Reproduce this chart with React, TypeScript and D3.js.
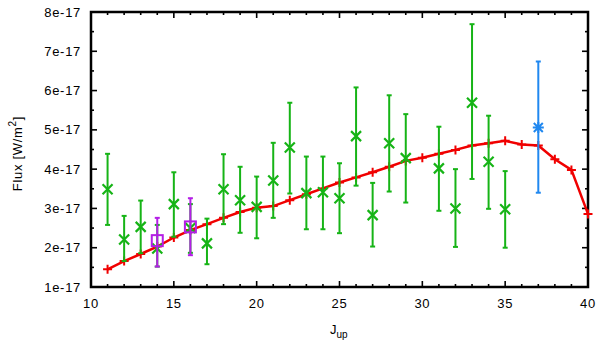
import React from 'react';
import * as d3 from 'd3';

// values in units of 1e-17 W/m^2
const modelJ = [11, 12, 13, 14, 15, 16, 17, 18, 19, 20, 21, 22, 23, 24, 25, 26, 27, 28, 29, 30, 31, 32, 33, 34, 35, 36, 37, 38, 39, 40];
const modelFlux = [1.45, 1.66, 1.84, 2.03, 2.26, 2.45, 2.6, 2.76, 2.91, 3.02, 3.06, 3.21, 3.36, 3.51, 3.66, 3.79, 3.92, 4.06, 4.21, 4.29, 4.39, 4.49, 4.6, 4.66, 4.72, 4.63, 4.6, 4.25, 3.98, 2.86];

const obsJ = [11, 12, 13, 14, 15, 16, 17, 18, 19, 20, 21, 22, 23, 24, 25, 26, 27, 28, 29, 31, 32, 33, 34, 35];
const obsFlux = [3.49, 2.21, 2.53, 1.98, 3.11, 2.5, 2.11, 3.49, 3.21, 3.04, 3.71, 4.55, 3.39, 3.41, 3.26, 4.84, 2.83, 4.66, 4.28, 4.02, 3.0, 5.69, 4.19, 2.98];
const obsLow = [2.58, 1.66, 1.86, 1.52, 2.28, 1.87, 1.58, 2.6, 2.38, 2.24, 2.76, 3.38, 2.47, 2.47, 2.37, 3.58, 2.03, 3.43, 3.15, 2.94, 2.02, 3.75, 2.99, 2.0];
const obsHigh = [4.39, 2.81, 3.2, 2.58, 3.92, 3.11, 2.74, 4.38, 4.06, 3.81, 4.67, 5.69, 4.32, 4.32, 4.15, 6.08, 3.65, 5.88, 5.4, 5.08, 4.0, 7.69, 5.36, 3.95];

const altJ = [14, 16];
const altFlux = [2.18, 2.53];
const altLow = [1.52, 1.81];
const altHigh = [2.76, 3.26];

const extraJ = [37];
const extraFlux = [5.06];
const extraLow = [3.4];
const extraHigh = [6.74];

const xTicks = [10, 15, 20, 25, 30, 35, 40];
const yTicks = [1, 2, 3, 4, 5, 6, 7, 8];
const yTickLabels = ['1e-17', '2e-17', '3e-17', '4e-17', '5e-17', '6e-17', '7e-17', '8e-17'];

const W = 600, H = 346;
const m = { left: 91, right: 12, top: 12, bottom: 59 };
const font = '"Liberation Sans", Arial, sans-serif';

const RED = '#f00000';
const GREEN = '#16b416';
const BLUE = '#2088f0';
const PURPLE = '#b41ee6';

export default function App() {
  const x = d3.scaleLinear().domain([10, 40]).range([m.left, W - m.right]);
  const y = d3.scaleLinear().domain([1, 8]).range([H - m.bottom, m.top]);
  const x0 = x.range()[0], x1 = x.range()[1];
  const y0 = y.range()[0], y1 = y.range()[1];

  const line = d3.line<number>().x((_, i) => x(modelJ[i])).y(d => y(d));

  const errBars = (js: number[], lo: number[], hi: number[], color: string, key: string) =>
    js.map((j, i) => {
      const cx = x(j);
      return (
        <g key={key + i} stroke={color} strokeWidth={2}>
          <line x1={cx} x2={cx} y1={y(lo[i])} y2={y(hi[i])} />
          <line x1={cx - 2.5} x2={cx + 2.5} y1={y(lo[i])} y2={y(lo[i])} />
          <line x1={cx - 2.5} x2={cx + 2.5} y1={y(hi[i])} y2={y(hi[i])} />
        </g>
      );
    });

  const cross = (cx: number, cy: number, s: number) => `M${cx - s},${cy - s}L${cx + s},${cy + s}M${cx - s},${cy + s}L${cx + s},${cy - s}`;
  const plus = (cx: number, cy: number, s: number) => `M${cx - s},${cy}L${cx + s},${cy}M${cx},${cy - s}L${cx},${cy + s}`;

  const minorX = d3.range(10, 41, 1);
  const minorY = d3.range(1, 8.01, 0.5);

  return (
    <svg width={W} height={H} style={{ position: 'absolute', left: 0, top: 0 }} fontFamily={font}>
      <rect width={W} height={H} fill="#fff" />
      {/* ticks, all four sides */}
      <g stroke="#000" strokeWidth={1.6}>
        {minorX.map(t => {
          const len = t % 5 === 0 ? 6 : 3;
          return (
            <g key={'tx' + t}>
              <line x1={x(t)} x2={x(t)} y1={y0} y2={y0 - len} />
              <line x1={x(t)} x2={x(t)} y1={y1} y2={y1 + len} />
            </g>
          );
        })}
        {minorY.map(t => {
          const len = Number.isInteger(t) ? 6 : 3;
          return (
            <g key={'ty' + t}>
              <line x1={x0} x2={x0 + len} y1={y(t)} y2={y(t)} />
              <line x1={x1} x2={x1 - len} y1={y(t)} y2={y(t)} />
            </g>
          );
        })}
      </g>
      <rect x={x0} y={y1} width={x1 - x0} height={y0 - y1} fill="none" stroke="#000" strokeWidth={2.5} />

      <g fontSize={13} letterSpacing={0.7} fill="#000">
        {xTicks.map(t => (
          <text key={'xl' + t} x={x(t)} y={308} textAnchor="middle">{t}</text>
        ))}
        {yTicks.map((t, i) => (
          <text key={'yl' + t} x={81} y={y(t)} dy="0.35em" textAnchor="end">{yTickLabels[i]}</text>
        ))}
      </g>

      <text transform={`translate(22,${(y0 + y1) / 2 + 4}) rotate(-90)`} textAnchor="middle" fontSize={13} letterSpacing={0.7}>
        Flux [W/m<tspan fontSize={10} dy={-6}>2</tspan><tspan dy={6}>]</tspan>
      </text>
      <text x={330} y={334} fontSize={13}>
        J<tspan fontSize={10} dy={4}>up</tspan>
      </text>

      {/* model */}
      <path d={line(modelFlux) || ''} fill="none" stroke={RED} strokeWidth={2.5} />
      <g stroke={RED} strokeWidth={2}>
        {modelJ.map((j, i) => <path key={'mp' + j} d={plus(x(j), y(modelFlux[i]), 4.5)} />)}
      </g>

      {/* observations */}
      {errBars(obsJ, obsLow, obsHigh, GREEN, 'ge')}
      <g stroke={GREEN} strokeWidth={2.2}>
        {obsJ.map((j, i) => <path key={'gp' + j} d={cross(x(j), y(obsFlux[i]), 5)} />)}
      </g>

      {errBars(altJ, altLow, altHigh, PURPLE, 'pe')}
      <g stroke={PURPLE} strokeWidth={2} fill="none">
        {altJ.map((j, i) => <rect key={'pp' + j} x={x(j) - 5.5} y={y(altFlux[i]) - 5.5} width={11} height={11} />)}
      </g>

      {errBars(extraJ, extraLow, extraHigh, BLUE, 'be')}
      <g stroke={BLUE} strokeWidth={2}>
        {extraJ.map((j, i) => (
          <path key={'bp' + j} d={cross(x(j), y(extraFlux[i]), 4.5) + plus(x(j), y(extraFlux[i]), 5.5)} />
        ))}
      </g>
    </svg>
  );
}
